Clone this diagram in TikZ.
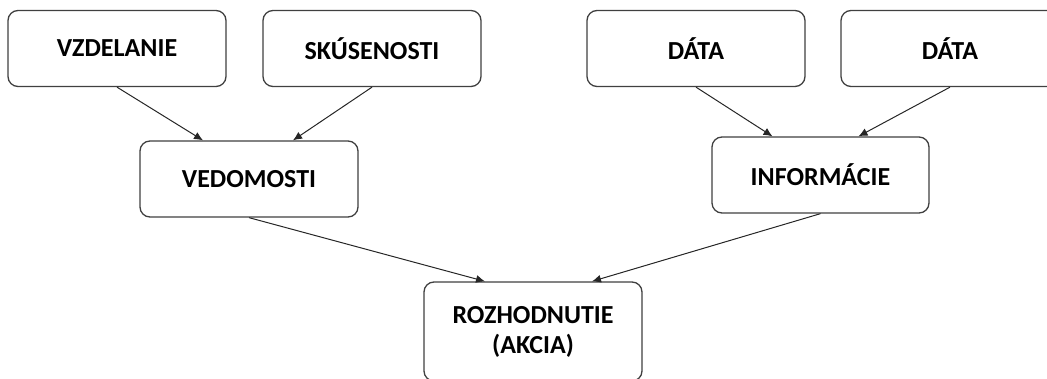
\documentclass[tikz,border=0pt]{standalone}
\usepackage{fontspec}
\setmainfont{Carlito}
\usetikzlibrary{arrows.meta}
\begin{document}
\begin{tikzpicture}[x=1pt,y=1pt,
  box/.style={draw=black!75, line width=1.3pt, rounded corners=10pt, fill=white,
    minimum width=218pt, minimum height=76pt, align=center, inner sep=0pt,
    font=\fontsize{26}{30}\selectfont\bfseries},
  link/.style={draw=black!85, line width=1pt, -{Latex[length=9pt,width=8pt]}}]
\useasboundingbox (0,0) rectangle (1047,378);
\begin{scope}
\clip (0,0) rectangle (1047,378);
% top row
\node[box] (vzd)  at (117,329.5) {VZDELANIE};
\node[box] (sku)  at (372,329.5) {SKÚSENOSTI};
\node[box] (dat1) at (696,329.5) {DÁTA};
\node[box] (dat2) at (950,329.5) {DÁTA};
% middle row
\node[box] (ved) at (249,199) {VEDOMOSTI};
\node[box, minimum width=217pt] (inf) at (820.5,203) {INFORMÁCIE};
% bottom
\node[box, minimum height=99pt] (roz) at (533,46.5) {ROZHODNUTIE\\(AKCIA)};
% connectors
\draw[link] (vzd.south)  -- ([xshift=-46pt]ved.north);
\draw[link] (sku.south)  -- ([xshift=44pt]ved.north);
\draw[link] (dat1.south) -- ([xshift=-48pt]inf.north);
\draw[link] (dat2.south) -- ([xshift=38pt]inf.north);
\draw[link] (ved.south)  -- ([xshift=-48pt]roz.north);
\draw[link] (inf.south)  -- ([xshift=59pt]roz.north);
\end{scope}
\end{tikzpicture}
\end{document}
